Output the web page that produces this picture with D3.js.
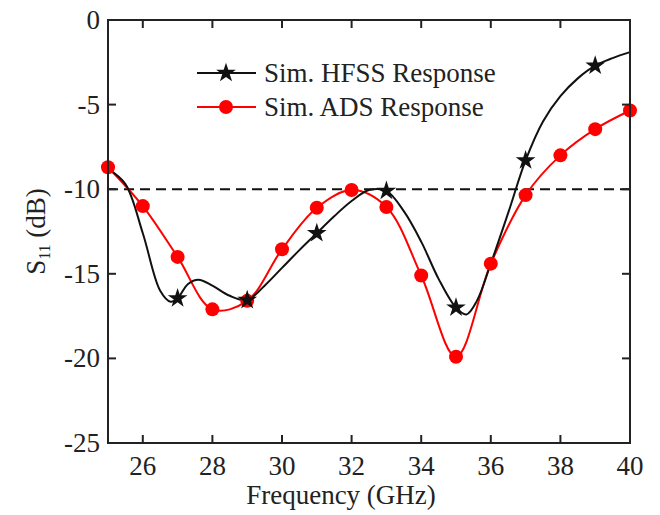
<!DOCTYPE html>
<html>
<head>
<meta charset="utf-8">
<script src="https://cdn.jsdelivr.net/npm/d3@7"></script>
<style>
  body { margin: 0; background: #fff; }
  text { font-family: "Liberation Serif", "Times New Roman", serif; fill: #222; }
</style>
</head>
<body>
<svg id="chart" width="660" height="515"></svg>
<script>
// HFSS curve
const hfssFreq = [25, 25.5, 26, 26.5, 26.8, 27, 27.3, 27.6, 28, 28.5, 29, 29.5, 30, 30.5, 31, 31.5, 32, 32.5, 33, 33.5, 34, 34.5, 35, 35.3, 35.6, 36, 36.5, 37, 37.5, 38, 38.5, 39, 39.5, 40];
const hfssS11 = [-8.8, -9.7, -12.6, -16.0, -16.65, -16.45, -15.6, -15.35, -15.7, -16.3, -16.55, -15.7, -14.65, -13.6, -12.6, -11.6, -10.7, -10.05, -10.1, -11.3, -13.1, -15.3, -17.0, -17.4, -16.6, -14.4, -11.4, -8.3, -6.0, -4.5, -3.45, -2.7, -2.25, -1.9];
// star markers
const hfssMarkFreq = [27, 29, 31, 33, 35, 37, 39];

// ADS points
const adsFreq = [25, 26, 27, 28, 29, 30, 31, 32, 33, 34, 35, 36, 37, 38, 39, 40];
const adsS11 = [-8.7, -11.0, -14.0, -17.1, -16.6, -13.55, -11.1, -10.05, -11.05, -15.1, -19.9, -14.4, -10.35, -8.0, -6.45, -5.35];

const xTicks = [26, 28, 30, 32, 34, 36, 38, 40];
const yTicks = [0, -5, -10, -15, -20, -25];
const threshold = -10;

const svg = d3.select("#chart");
const margin = {left: 108, right: 30, top: 20, bottom: 72};
const W = 660, H = 515;

const x = d3.scaleLinear().domain([25, 40]).range([margin.left, W - margin.right]);
const y = d3.scaleLinear().domain([-25, 0]).range([H - margin.bottom, margin.top]);

const hfss = hfssFreq.map((f, i) => [f, hfssS11[i]]);
const ads = adsFreq.map((f, i) => [f, adsS11[i]]);

const line = d3.line().x(d => x(d[0])).y(d => y(d[1])).curve(d3.curveCatmullRom.alpha(0.5));

// threshold line
svg.append("line")
    .attr("x1", x(25)).attr("x2", x(40))
    .attr("y1", y(threshold)).attr("y2", y(threshold))
    .attr("stroke", "#111").attr("stroke-width", 2)
    .attr("stroke-dasharray", "10,6");

svg.append("path").datum(ads)
    .attr("d", line).attr("fill", "none")
    .attr("stroke", "#f00").attr("stroke-width", 2);

svg.append("path").datum(hfss)
    .attr("d", line).attr("fill", "none")
    .attr("stroke", "#111").attr("stroke-width", 2);

svg.append("g").selectAll("circle")
  .data(ads)
  .join("circle")
    .attr("cx", d => x(d[0])).attr("cy", d => y(d[1]))
    .attr("r", 7).attr("fill", "#f00");

const star = d3.symbol().type(d3.symbolStar).size(120);
const marks = hfss.filter(d => hfssMarkFreq.includes(d[0]));
svg.append("g").selectAll("path")
  .data(marks)
  .join("path")
    .attr("transform", d => `translate(${x(d[0])},${y(d[1])})`)
    .attr("d", star).attr("fill", "#111");

// frame and inward ticks
const g = svg.append("g").attr("stroke", "#222").attr("stroke-width", 2);
g.append("rect")
    .attr("x", x(25)).attr("y", y(0))
    .attr("width", x(40) - x(25)).attr("height", y(-25) - y(0))
    .attr("fill", "none");
const tl = 8;
xTicks.filter(t => t < 40).forEach(t => {
  g.append("line").attr("x1", x(t)).attr("x2", x(t)).attr("y1", y(-25)).attr("y2", y(-25) - tl);
  g.append("line").attr("x1", x(t)).attr("x2", x(t)).attr("y1", y(0)).attr("y2", y(0) + tl);
});
yTicks.filter(t => t > -25 && t < 0).forEach(t => {
  g.append("line").attr("x1", x(25)).attr("x2", x(25) + tl).attr("y1", y(t)).attr("y2", y(t));
  g.append("line").attr("x1", x(40)).attr("x2", x(40) - tl).attr("y1", y(t)).attr("y2", y(t));
});

// tick labels
svg.append("g").selectAll("text")
  .data(xTicks)
  .join("text")
    .attr("x", d => x(d)).attr("y", y(-25) + 32)
    .attr("text-anchor", "middle").attr("font-size", 27)
    .text(d => d);

svg.append("g").selectAll("text")
  .data(yTicks)
  .join("text")
    .attr("x", x(25) - 8).attr("y", d => y(d) + 9)
    .attr("text-anchor", "end").attr("font-size", 27)
    .text(d => d);

// axis titles
svg.append("text")
    .attr("x", 341).attr("y", 504)
    .attr("text-anchor", "middle").attr("font-size", 27)
    .text("Frequency (GHz)");

const yt = svg.append("text")
    .attr("transform", `translate(45,${y(-12.5)}) rotate(-90)`)
    .attr("text-anchor", "middle").attr("font-size", 27);
yt.append("tspan").text("S");
yt.append("tspan").attr("font-size", 16).attr("dy", 5).text("11");
yt.append("tspan").attr("dy", -5).text(" (dB)");

// legend
const legend = [
  {name: "Sim. HFSS Response", color: "#111", mark: "star"},
  {name: "Sim. ADS Response", color: "#f00", mark: "circle"}
];
const lg = svg.append("g");
legend.forEach((d, i) => {
  const ly = 73 + i * 34;
  lg.append("line").attr("x1", 197).attr("x2", 256).attr("y1", ly).attr("y2", ly)
      .attr("stroke", d.color).attr("stroke-width", 2);
  if (d.mark === "star") {
    lg.append("path").attr("transform", `translate(226,${ly})`).attr("d", star).attr("fill", d.color);
  } else {
    lg.append("circle").attr("cx", 226).attr("cy", ly).attr("r", 7).attr("fill", d.color);
  }
  lg.append("text").attr("x", 264).attr("y", ly + 9).attr("font-size", 27).text(d.name);
});
</script>
</body>
</html>
